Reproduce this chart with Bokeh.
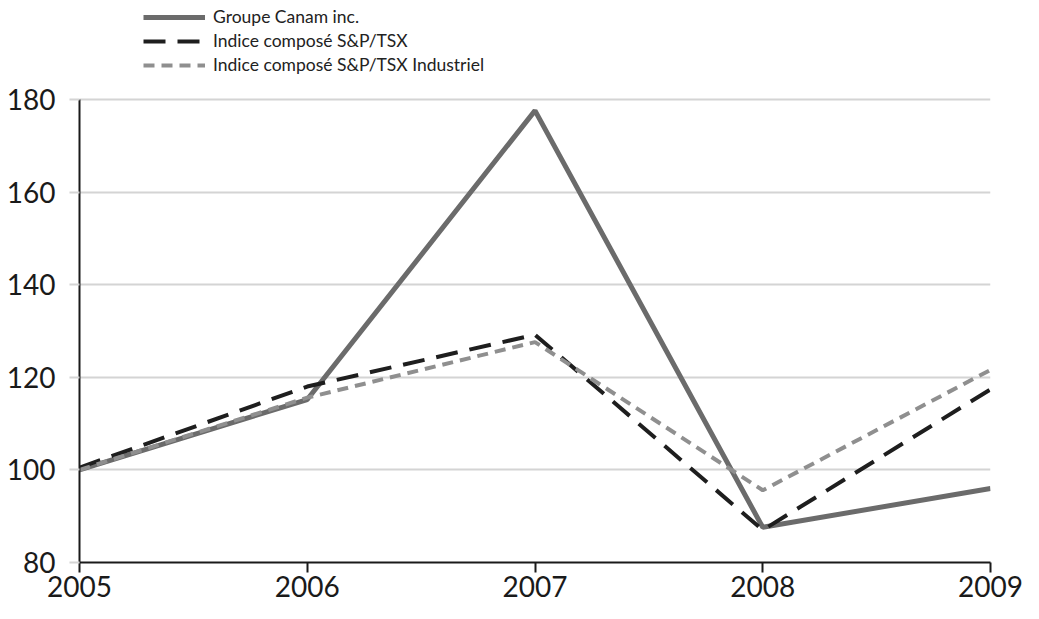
from bokeh.plotting import figure
from bokeh.models import Range1d, FixedTicker
from bokeh.embed import file_html
from bokeh.resources import INLINE

years = [2005, 2006, 2007, 2008, 2009]
canam = [100, 115.2, 177.6, 87.6, 96.0]
tsx = [100.5, 118.0, 129.2, 87.0, 117.4]
tsx_ind = [100, 115.6, 127.6, 95.6, 121.6]
y_ticks = [80, 100, 120, 140, 160, 180]

FONT = "Lato"

# layout (figure pixels)
W, H = 1023, 603
LEFT, RIGHT_B = 79, 33
Y180_PX, Y80_PX = 99, 562          # where 180 and 80 sit, from top
px_per_unit = (Y80_PX - Y180_PX) / 100.0
y_top = 180 + Y180_PX / px_per_unit  # frame extends to the top of the figure

p = figure(width=W, height=H, output_backend="svg", toolbar_location=None,
           x_range=Range1d(2005, 2009), y_range=Range1d(80, y_top),
           min_border=0, min_border_left=LEFT, min_border_right=RIGHT_B,
           min_border_top=0, min_border_bottom=H - Y80_PX)
p.outline_line_color = None
p.background_fill_color = "white"
p.border_fill_color = "white"

p.line(years, canam, line_color="#6b6b6b", line_width=5, legend_label="Groupe Canam inc.")
p.line(years, tsx, line_color="#1e1e1e", line_width=4, line_dash="22 12",
       legend_label="Indice composé S&P/TSX")
p.line(years, tsx_ind, line_color="#8f8f8f", line_width=4, line_dash="11 7",
       legend_label="Indice composé S&P/TSX Industriel")

p.xaxis.ticker = FixedTicker(ticks=years)
p.yaxis.ticker = FixedTicker(ticks=y_ticks)
p.yaxis.bounds = (80, 180)
for ax in (p.xaxis[0], p.yaxis[0]):
    ax.axis_line_color = "#1a1a1a"
    ax.axis_line_width = 2
    ax.minor_tick_line_color = None
    ax.major_label_text_font = FONT
    ax.major_label_text_font_size = "28px"
    ax.major_label_text_color = "#1a1a1a"
    ax.major_tick_in = 0
    ax.major_tick_out = 10
p.xaxis.major_tick_line_color = "#1a1a1a"
p.xaxis.major_tick_line_width = 2
p.xaxis.major_label_standoff = 3
p.yaxis.major_tick_line_color = "#d4d4d4"
p.yaxis.major_tick_line_width = 2
p.yaxis.major_label_standoff = 14

p.xgrid.grid_line_color = None
p.ygrid.grid_line_color = "#d4d4d4"
p.ygrid.grid_line_width = 2

lg = p.legend[0]
lg.location = (64, Y80_PX - 75)
lg.orientation = "vertical"
lg.padding = 0
lg.margin = 0
lg.spacing = 3
lg.glyph_width = 62
lg.glyph_height = 14
lg.label_height = 14
lg.label_standoff = 8
lg.border_line_color = None
lg.background_fill_alpha = 0
lg.label_text_font = FONT
lg.label_text_font_size = "17.5px"
lg.label_text_color = "#222222"

open("out.html", "w").write(file_html(p, INLINE))
